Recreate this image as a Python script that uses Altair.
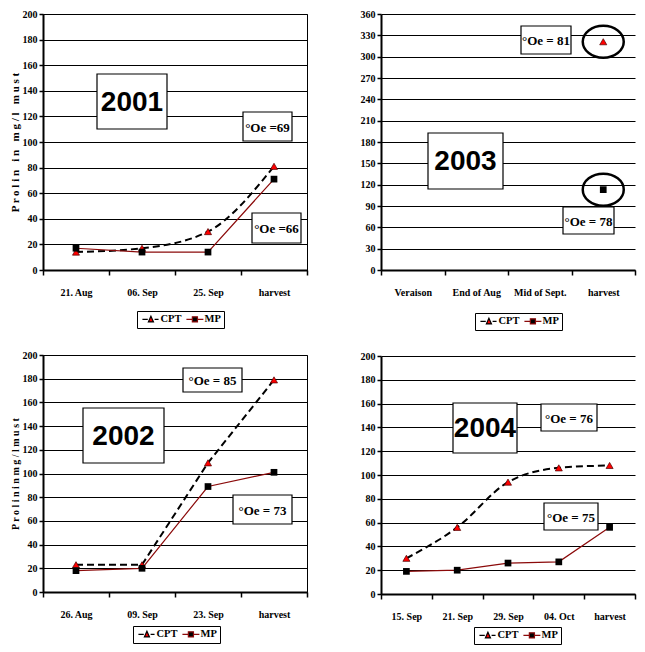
import altair as alt
import pandas as pd

# ---------------- data ----------------
series = ["CPT", "MP"]

dates_2001 = ["21. Aug", "06. Sep", "25. Sep", "harvest"]
cpt_2001 = [14, 17, 30, 81]
mp_2001 = [17, 14, 14, 71]

dates_2002 = ["26. Aug", "09. Sep", "23. Sep", "harvest"]
cpt_2002 = [23, 23, 109, 179]
mp_2002 = [18, 20, 89, 101]

dates_2003 = ["Veraison", "End of Aug", "Mid of Sept.", "harvest"]
cpt_2003 = [None, None, None, 321]
mp_2003 = [None, None, None, 113]

dates_2004 = ["15. Sep", "21. Sep", "29. Sep", "04. Oct", "harvest"]
cpt_2004 = [30, 56, 94, 106, 108]
mp_2004 = [19, 20, 26, 27, 56]

ytitle_2001 = "P r o l i n \u00a0 i n \u00a0 m g / l \u00a0 m u s t"
ytitle_2002 = "P r o l i n  i n  m g / l  m u s t"

# ---------------- styles ----------------
SERIF = "Liberation Serif"
SANS = "Liberation Sans"
DARKRED = "#8B0A0A"
CPT_SYM = "M-1,0H0.9M1.1,0.9L2,-1.1L2.9,0.9ZM3.3,0H4.7"
MP_SYM = "M-1,0H1.1M2.9,0H5M1.1,-0.9H2.9V0.9H1.1Z"
ELLIPSE = "M-1,0A1,0.78,0,1,1,1,0A1,0.78,0,1,1,-1,0Z"


def make_df(dates, cpt, mp):
    rows = []
    for d, c, m in zip(dates, cpt, mp):
        if c is not None:
            rows.append({"date": d, "series": "CPT", "value": c})
        if m is not None:
            rows.append({"date": d, "series": "MP", "value": m})
    return pd.DataFrame(rows)


def annotation(label, x0, y0, x1, y1, big):
    one = alt.Data(values=[{"k": 1}])
    rect = alt.Chart(one).mark_rect(fill="white", stroke="black", strokeWidth=1.2).encode(
        x=alt.value(x0), x2=alt.value(x1), y=alt.value(y0), y2=alt.value(y1))
    if big:
        txt = alt.Chart(one).mark_text(font=SANS, fontSize=28, fontWeight="bold", color="black",
                                       align="center", baseline="middle", text=label)
    else:
        txt = alt.Chart(one).mark_text(font=SERIF, fontSize=13, fontWeight="bold", color="black",
                                       align="center", baseline="middle", text=label)
    txt = txt.encode(x=alt.value((x0 + x1) / 2), y=alt.value((y0 + y1) / 2 + 1))
    return [rect, txt]


def panel(dates, cpt, mp, ymax, ystep, width, height, ytitle, ytitle_size,
          boxes, legend_xy, border, smooth, ellipses=False):
    df = make_df(dates, cpt, mp)
    x = alt.X("date:N", sort=dates,
              scale=alt.Scale(type="band", domain=dates, paddingInner=0, paddingOuter=0),
              axis=alt.Axis(title=None, labelAngle=0, tickBand="extent", grid=False,
                            domainColor="black", domainWidth=2, tickColor="black",
                            tickWidth=1.5, tickSize=5, labelFont=SERIF, labelFontWeight="bold",
                            labelFontSize=10, labelColor="black", labelPadding=12))
    yaxis = dict(values=list(range(0, ymax + 1, ystep)), grid=True, gridColor="black",
                 gridWidth=1, gridOpacity=1, domainColor="black", domainWidth=2,
                 tickColor="black", tickWidth=1.5, tickSize=4, labelFont=SERIF,
                 labelFontWeight="bold", labelFontSize=10, labelColor="black", labelPadding=2)
    if ytitle:
        yaxis.update(title=ytitle, titleFont=SERIF, titleFontWeight="bold",
                     titleFontSize=ytitle_size, titleColor="black", titlePadding=2)
    else:
        yaxis.update(title=None)
    y = alt.Y("value:Q", scale=alt.Scale(domain=[0, ymax], nice=False, zero=True),
              axis=alt.Axis(**yaxis))

    layers = []
    for b in boxes:
        layers += annotation(*b)

    base = alt.Chart(df).encode(x=x, y=y)
    cpt_line = base.transform_filter(alt.datum.series == "CPT").mark_line(
        color="black", strokeDash=[7, 4], strokeWidth=2,
        interpolate="monotone" if smooth else "linear")
    mp_line = base.transform_filter(alt.datum.series == "MP").mark_line(
        color=DARKRED, strokeWidth=1.2)
    cpt_pts = base.transform_filter(alt.datum.series == "CPT").mark_point(
        shape="triangle-up", filled=True, fill="#FF0000", stroke="#4a0000",
        strokeWidth=0.7, size=50, opacity=1)
    mp_pts = base.transform_filter(alt.datum.series == "MP").mark_point(
        shape="square", filled=True, color="black", size=45, opacity=1)
    layers = [cpt_line, mp_line] + layers + [cpt_pts, mp_pts]
    if ellipses:
        layers.append(base.mark_point(shape=ELLIPSE, size=1681, filled=False,
                                      stroke="black", strokeWidth=2.5, opacity=1))

    leg = alt.Legend(title=None, orient="none", legendX=legend_xy[0], legendY=legend_xy[1],
                     direction="horizontal", strokeColor="black", padding=3,
                     fillColor="white", labelFont=SERIF, labelFontWeight="bold",
                     labelFontSize=10.5, labelColor="black", labelOffset=10,
                     symbolSize=32, symbolStrokeWidth=1.2, columnPadding=2)
    legend_layer = alt.Chart(df).transform_filter("false").mark_point(
        filled=True, opacity=1).encode(
        shape=alt.Shape("series:N", scale=alt.Scale(domain=series, range=[CPT_SYM, MP_SYM]), legend=leg),
        fill=alt.Fill("series:N", scale=alt.Scale(domain=series, range=["#FF0000", "#000000"]), legend=leg),
        stroke=alt.Stroke("series:N", scale=alt.Scale(domain=series, range=["#000000", DARKRED]), legend=leg),
    )
    layers.append(legend_layer)
    return alt.layer(*layers).properties(
        width=width, height=height,
        view=alt.ViewBackground(stroke=border, strokeWidth=1))


boxes_2001 = [("2001", 54, 60, 124, 115, True),
              ("°Oe =69", 200, 98, 249, 127, False),
              ("°Oe =66", 209, 199, 258, 229, False)]
boxes_2003 = [("°Oe = 81", 140, 12, 190, 40, False),
              ("2003", 47, 119, 122, 175, True),
              ("°Oe = 78", 182, 193, 233, 220, False)]
boxes_2002 = [("2002", 40, 53, 121, 108, True),
              ("°Oe = 85", 140, 13, 199, 37, False),
              ("°Oe = 73", 190, 140, 249, 169, False)]
boxes_2004 = [("2004", 72, 47, 136, 97, True),
              ("°Oe = 76", 160, 48, 216, 75, False),
              ("°Oe = 75", 163, 147, 217, 174, False)]

p1 = panel(dates_2001, cpt_2001, mp_2001, 200, 20, 264, 256, ytitle_2001, 11,
           boxes_2001, (94, 297), "black", True)
p3 = panel(dates_2002, cpt_2002, mp_2002, 200, 20, 264, 237, ytitle_2002, 10,
           boxes_2002, (90, 271), "black", False)
p2 = panel(dates_2003, cpt_2003, mp_2003, 360, 30, 254, 256, None, 10,
           boxes_2003, (94, 299), "transparent", False, ellipses=True)
p4 = panel(dates_2004, cpt_2004, mp_2004, 200, 20, 254, 238, None, 10,
           boxes_2004, (93, 271), "transparent", True)

IND = dict(shape="independent", fill="independent", stroke="independent")

left = alt.vconcat(p1, p3, spacing=20).resolve_scale(**IND).resolve_legend(**IND)
right = alt.vconcat(p2, p4, spacing=19).resolve_scale(**IND).resolve_legend(**IND)

chart = alt.hconcat(left, right, spacing=50).resolve_scale(**IND).resolve_legend(**IND).properties(
    padding={"left": 0, "top": 0, "right": 0, "bottom": 0})

chart.save("out.html", embed_options={"renderer": "svg", "actions": False})
